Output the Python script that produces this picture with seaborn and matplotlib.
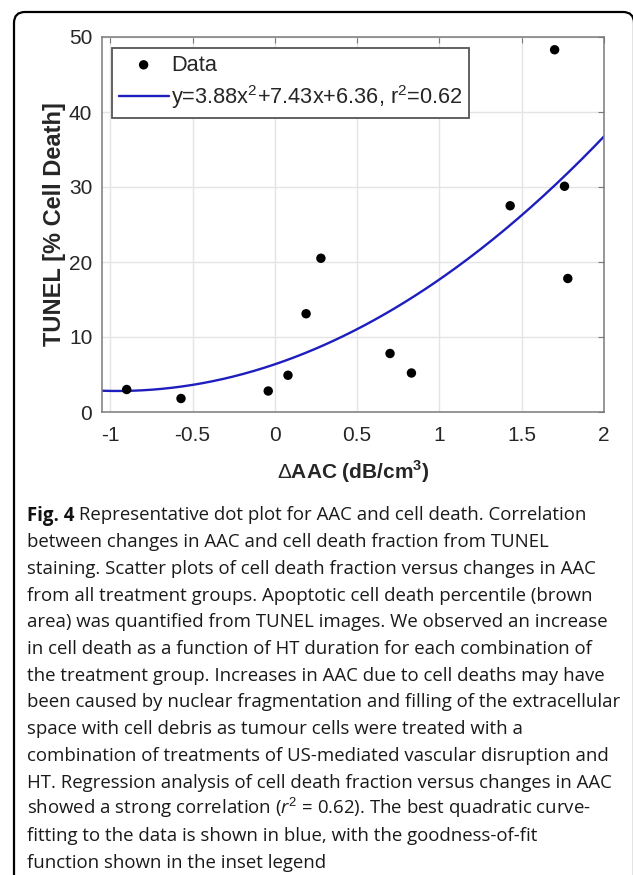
import numpy as np
import pandas as pd
import matplotlib
matplotlib.use("Agg")
import matplotlib.pyplot as plt
from matplotlib.patches import FancyBboxPatch
from matplotlib.transforms import IdentityTransform
import seaborn as sns

# data
aac_change = [-0.90, -0.57, -0.04, 0.08, 0.19, 0.28, 0.70, 0.83, 1.43, 1.70, 1.76, 1.78]
cell_death = [3.0, 1.8, 2.8, 4.9, 13.1, 20.5, 7.8, 5.2, 27.5, 48.3, 30.1, 17.8]

# quadratic fit given in the legend: a*x^2 + b*x + c
fit_coef = [3.88, 7.43, 6.36]
fit_label = r"y=3.88x$^2$+7.43x+6.36, r$^2$=0.62"

x_ticks = [-1, -0.5, 0, 0.5, 1, 1.5, 2]
x_ticklabels = ["-1", "-0.5", "0", "0.5", "1", "1.5", "2"]
y_ticks = [0, 10, 20, 30, 40, 50]

caption_bold = "Fig. 4"
caption_lines = [
    " Representative dot plot for AAC and cell death. Correlation",
    "between changes in AAC and cell death fraction from TUNEL",
    "staining. Scatter plots of cell death fraction versus changes in AAC",
    "from all treatment groups. Apoptotic cell death percentile (brown",
    "area) was quantified from TUNEL images. We observed an increase",
    "in cell death as a function of HT duration for each combination of",
    "the treatment group. Increases in AAC due to cell deaths may have",
    "been caused by nuclear fragmentation and filling of the extracellular",
    "space with cell debris as tumour cells were treated with a",
    "combination of treatments of US-mediated vascular disruption and",
    "HT. Regression analysis of cell death fraction versus changes in AAC",
    r"showed a strong correlation ($r^2$ = 0.62). The best quadratic curve-",
    "fitting to the data is shown in blue, with the goodness-of-fit",
    "function shown in the inset legend",
]

sns.set_style("whitegrid")
plt.rcParams['font.family'] = ['Liberation Sans', 'DejaVu Sans']
plt.rcParams['mathtext.fontset'] = 'custom'
plt.rcParams['mathtext.rm'] = 'Liberation Sans'
plt.rcParams['mathtext.bf'] = 'Liberation Sans:bold'
plt.rcParams['mathtext.it'] = 'Open Sans:italic'

W, H = 633, 875
fig = plt.figure(figsize=(W / 100, H / 100), dpi=100)

# panel frame with rounded top corners
frame = FancyBboxPatch((14, -60), 620, 863 + 60, boxstyle="round,pad=0,rounding_size=11",
                       transform=IdentityTransform(), fill=False, edgecolor="black", linewidth=1.6)
fig.patches.append(frame)

ax = fig.add_axes([102 / W, 1 - 412 / H, (604 - 102) / W, (412 - 37) / H])

xfit = np.linspace(-1.05, 2, 200)
yfit = np.polyval(fit_coef, xfit)
fit_df = pd.DataFrame({"x": xfit, "y": yfit})
pts_df = pd.DataFrame({"aac": aac_change, "tunel": cell_death})

sns.lineplot(data=fit_df, x="x", y="y", color="#1e1ebe", linewidth=1.7, label=fit_label, ax=ax)
sns.scatterplot(data=pts_df, x="aac", y="tunel", color="black", s=46, edgecolor="none",
                label="Data", ax=ax, zorder=3)

ax.set_xlim(-1.05, 2)
ax.set_ylim(0, 50)
ax.set_xticks(x_ticks)
ax.set_xticklabels(x_ticklabels)
ax.set_yticks(y_ticks)
ax.grid(True, color="#e4e4e4", linewidth=1.0)
for s in ax.spines.values():
    s.set_color("#7a7a7a")
    s.set_linewidth(1.1)
ax.tick_params(direction="in", top=True, right=True, length=4, width=0.8, color="#7a7a7a",
               labelsize=15, labelcolor="#262626")
ax.tick_params(axis="x", pad=10)
ax.tick_params(axis="y", pad=7)

ax.set_xlabel(r"$\Delta$AAC (dB/cm$^\mathbf{3}$)", fontsize=15, fontweight="bold", labelpad=10)
ax.set_ylabel("TUNEL [% Cell Death]", fontsize=17, fontweight="bold", labelpad=2)

handles, labels = ax.get_legend_handles_labels()
leg = ax.legend(handles[::-1], labels[::-1], loc="upper left",
                bbox_to_anchor=(10 / 502, 1 - 11 / 375), borderaxespad=0,
                fontsize=15.7, frameon=True, fancybox=False, framealpha=1,
                edgecolor="#555555", handlelength=2.3, handletextpad=0.1,
                labelspacing=0.35, borderpad=0.3)
leg.get_frame().set_linewidth(1.3)

# caption
cap_font = ['Open Sans', 'DejaVu Sans']
cap_size = 13.4
x0 = 27 / W
base0 = 520.5
step = 26.7
bold = fig.text(x0, 1 - base0 / H, caption_bold, fontsize=cap_size, fontweight="bold",
                family=cap_font, va="baseline", ha="left", color="#111111")
fig.canvas.draw()
bb = bold.get_window_extent()
for i, line in enumerate(caption_lines):
    xi = bb.x1 / W if i == 0 else x0
    fig.text(xi, 1 - (base0 + i * step) / H, line, fontsize=cap_size, family=cap_font,
             va="baseline", ha="left", color="#1a1a1a")

fig.savefig("out.png", dpi=100)
